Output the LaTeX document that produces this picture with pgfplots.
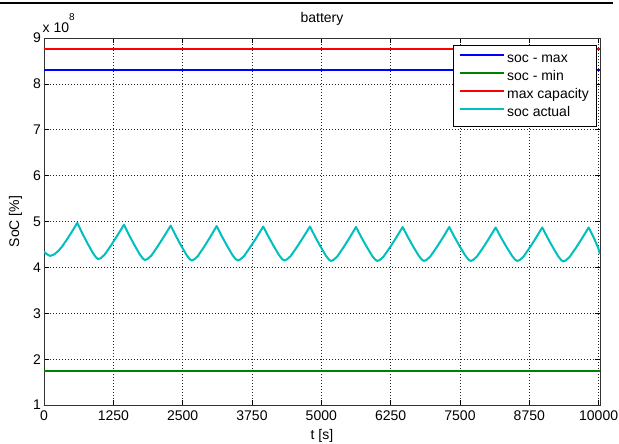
\documentclass[border=0pt]{standalone}
\usepackage{pgfplots}
\pgfplotsset{compat=1.18}
\usepackage{fontspec}
\setmainfont{Liberation Sans}
\definecolor{mblue}{RGB}{0,0,255}
\definecolor{mgreen}{RGB}{0,128,0}
\definecolor{mred}{RGB}{255,0,0}
\definecolor{mcyan}{RGB}{0,191,191}
\newcommand{\fs}{\fontsize{14bp}{16bp}\selectfont}
\begin{document}
\begin{tikzpicture}[x=1bp,y=1bp]
\useasboundingbox (-44,-39) rectangle (575,405);
\begin{axis}[
 name=ax,
 at={(0,0)}, anchor=south west,
 scale only axis, width=556bp, height=367bp,
 xmin=0, xmax=10025, ymin=1, ymax=9,
 xtick={0,1250,2500,3750,5000,6250,7500,8750,10000},
 ytick={1,2,3,4,5,6,7,8,9},
 scaled x ticks=false, scaled y ticks=false,
 /pgf/number format/assume math mode=true,
 /pgf/number format/1000 sep={},
 xticklabel style={font=\fs, anchor=base, yshift=-15.5bp, inner sep=0pt},
 yticklabel style={font=\fs, anchor=east, xshift=-3bp, inner sep=0pt},
 tick align=inside, tick pos=both,
 major tick length=5bp,
 tick style={black, line width=0.6bp},
 axis line style={black!80, line width=0.8bp},
 grid=major,
 major grid style={black!85, line width=0.5bp, dash pattern=on 1bp off 2bp},
 title={battery},
 title style={font=\fs, at={(rel axis cs:0.5,1)}, anchor=base, yshift=9.7bp, inner sep=0pt},
 xlabel={t [s]},
 xlabel style={font=\fs, at={(axis description cs:0.5,-0.0845)}, anchor=center, inner sep=0pt},
 ylabel={SoC [\%]},
 ylabel style={font=\fs, at={(axis description cs:-0.0513,0.5)}, anchor=center, inner sep=0pt},
 legend style={at={(rel axis cs:1,1)}, anchor=north east, xshift=-3.3bp, yshift=-7.3bp,
   font=\fs, draw=black, fill=white, inner xsep=5.7bp, inner ysep=4.3bp,
   cells={anchor=west},
   nodes={inner xsep=2bp, inner ysep=2.5bp, text height=10bp, text depth=3bp},
   row sep=0bp},
 legend image code/.code={\draw[#1] (0bp,4bp) -- (44bp,4bp);},
]
\addplot[mblue, line width=2bp] coordinates {(0,8.3125) (10025,8.3125)};
\addlegendentry{soc - max}
\addplot[mgreen, line width=2bp] coordinates {(0,1.75) (10025,1.75)};
\addlegendentry{soc - min}
\addplot[mred, line width=2bp] coordinates {(0,8.75) (10025,8.75)};
\addlegendentry{max capacity}
\addplot[mcyan, line width=2bp, line join=round] coordinates {
(0,4.34) (60,4.28) (110,4.25) (180,4.28) (260,4.36) (330,4.46) (420,4.62) (510,4.79) (600,4.97)
(695,4.733) (790,4.512) (885,4.306) (942,4.212) (979,4.18)
(1025,4.203) (1094,4.278) (1209,4.48) (1324,4.698) (1442,4.93)
(1537,4.699) (1632,4.483) (1727,4.283) (1784,4.191) (1821,4.16)
(1867,4.183) (1936,4.258) (2051,4.46) (2166,4.678) (2284,4.91)
(2379,4.682) (2474,4.469) (2569,4.272) (2626,4.18) (2663,4.15)
(2708,4.173) (2775,4.248) (2888,4.45) (3000,4.668) (3113,4.90)
(3208,4.675) (3303,4.465) (3398,4.27) (3455,4.18) (3492,4.15)
(3538,4.172) (3607,4.246) (3722,4.446) (3837,4.661) (3953,4.89)
(4048,4.668) (4143,4.461) (4238,4.268) (4295,4.18) (4332,4.15)
(4378,4.172) (4447,4.246) (4562,4.446) (4677,4.661) (4795,4.89)
(4890,4.665) (4985,4.455) (5080,4.26) (5137,4.17) (5174,4.14)
(5219,4.162) (5287,4.236) (5400,4.436) (5512,4.651) (5625,4.88)
(5721,4.658) (5817,4.451) (5913,4.258) (5971,4.17) (6009,4.14)
(6055,4.162) (6123,4.236) (6238,4.436) (6352,4.651) (6466,4.88)
(6562,4.658) (6658,4.451) (6754,4.258) (6812,4.17) (6850,4.14)
(6896,4.162) (6964,4.236) (7079,4.436) (7193,4.651) (7307,4.88)
(7403,4.658) (7499,4.451) (7596,4.258) (7654,4.17) (7692,4.14)
(7737,4.162) (7805,4.235) (7918,4.432) (8030,4.644) (8143,4.87)
(8240,4.651) (8338,4.447) (8436,4.257) (8494,4.169) (8533,4.14)
(8578,4.162) (8646,4.235) (8758,4.432) (8871,4.644) (8983,4.87)
(9078,4.648) (9173,4.441) (9268,4.248) (9325,4.159) (9362,4.13)
(9408,4.152) (9476,4.226) (9591,4.426) (9705,4.641) (9820,4.87)
(9915,4.64) (9990,4.43) (10025,4.29)
};
\addlegendentry{soc actual}
\end{axis}
\node[anchor=base west, inner sep=0pt, font=\fs] at ([xshift=-1.5bp,yshift=5.7bp]ax.north west) {x 10\raisebox{11.5bp}{\fontsize{10bp}{11bp}\selectfont 8}};
\draw[black, line width=1.2bp] (-44,402) -- (569,402);
\end{tikzpicture}
\end{document}
